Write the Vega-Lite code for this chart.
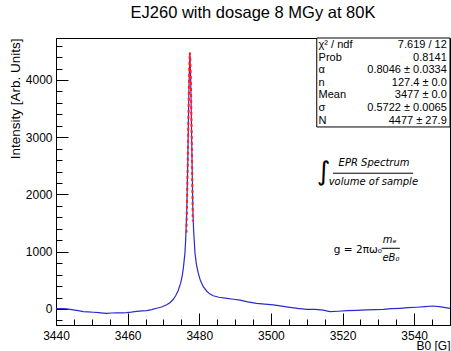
{
  "$schema": "https://vega.github.io/schema/vega-lite/v6.json",
  "width": 394,
  "height": 287,
  "autosize": {"type": "none"},
  "padding": {"left": 56, "top": 38, "right": 1, "bottom": 26},
  "background": "white",
  "config": {
    "view": {"stroke": "black", "strokeWidth": 1},
    "font": "Liberation Sans"
  },
  "title": {
    "text": "EJ260 with dosage 8 MGy at 80K",
    "font": "Liberation Sans",
    "fontSize": 16.5,
    "fontWeight": "normal",
    "color": "black",
    "anchor": "middle",
    "baseline": "alphabetic",
    "offset": 3
  },
  "resolve": {"axis": {"x": "independent", "y": "independent"}},
  "datasets": {
    "spectrum": [
      {"B": 3440.0, "I": 5}, {"B": 3441.5, "I": 8}, {"B": 3443.0, "I": 0}, {"B": 3444.8, "I": -17},
      {"B": 3446.2, "I": -30}, {"B": 3447.6, "I": -47}, {"B": 3449.0, "I": -50}, {"B": 3450.4, "I": -57},
      {"B": 3452.0, "I": -65}, {"B": 3453.2, "I": -72}, {"B": 3454.2, "I": -78}, {"B": 3455.5, "I": -70},
      {"B": 3456.9, "I": -66}, {"B": 3458.3, "I": -68}, {"B": 3459.7, "I": -64}, {"B": 3461.0, "I": -55},
      {"B": 3462.5, "I": -42}, {"B": 3464.0, "I": -35}, {"B": 3465.3, "I": -28}, {"B": 3466.7, "I": -10},
      {"B": 3468.1, "I": 12}, {"B": 3469.5, "I": 35}, {"B": 3470.9, "I": 75}, {"B": 3471.8, "I": 110},
      {"B": 3472.7, "I": 165}, {"B": 3473.4, "I": 230}, {"B": 3474.1, "I": 320}, {"B": 3474.8, "I": 450},
      {"B": 3475.3, "I": 600}, {"B": 3475.6, "I": 740}, {"B": 3476.0, "I": 980}, {"B": 3476.2, "I": 1205},
      {"B": 3476.5, "I": 1700}, {"B": 3476.8, "I": 2600}, {"B": 3477.1, "I": 3800}, {"B": 3477.35, "I": 4480},
      {"B": 3477.6, "I": 4050}, {"B": 3477.9, "I": 2900}, {"B": 3478.2, "I": 1750}, {"B": 3478.4, "I": 1400},
      {"B": 3478.8, "I": 980}, {"B": 3479.2, "I": 780}, {"B": 3479.7, "I": 630}, {"B": 3480.3, "I": 500},
      {"B": 3481.1, "I": 390}, {"B": 3482.1, "I": 310}, {"B": 3483.0, "I": 260}, {"B": 3483.9, "I": 230},
      {"B": 3485.5, "I": 205}, {"B": 3487.7, "I": 186}, {"B": 3489.5, "I": 170}, {"B": 3491.4, "I": 155},
      {"B": 3493.5, "I": 125}, {"B": 3496.0, "I": 99}, {"B": 3498.3, "I": 85}, {"B": 3500.7, "I": 70},
      {"B": 3503.0, "I": 50}, {"B": 3505.3, "I": 29}, {"B": 3507.5, "I": 10}, {"B": 3510.0, "I": -6},
      {"B": 3512.3, "I": -8}, {"B": 3514.6, "I": -20}, {"B": 3516.5, "I": -47}, {"B": 3518.8, "I": -40},
      {"B": 3521.2, "I": -30}, {"B": 3524.0, "I": -25}, {"B": 3526.7, "I": -17}, {"B": 3529.0, "I": -12},
      {"B": 3531.4, "I": -8}, {"B": 3533.7, "I": 5}, {"B": 3536.0, "I": 12}, {"B": 3538.3, "I": 22},
      {"B": 3540.7, "I": 30}, {"B": 3543.0, "I": 40}, {"B": 3545.3, "I": 52}, {"B": 3547.5, "I": 35},
      {"B": 3550.0, "I": 12}
    ],
    "fit": [
      {"B": 3476.4, "I": 1330}, {"B": 3476.6, "I": 1900}, {"B": 3476.8, "I": 2600}, {"B": 3477.0, "I": 3450},
      {"B": 3477.2, "I": 4150}, {"B": 3477.35, "I": 4480}, {"B": 3477.5, "I": 4350}, {"B": 3477.7, "I": 3800},
      {"B": 3477.9, "I": 2950}, {"B": 3478.1, "I": 2000}, {"B": 3478.2, "I": 1530}
    ],
    "box": [
      {"B1": 3512.8, "B2": 3550, "I1": 3179, "I2": 4733}
    ],
    "stats": [
      {"label": "χ² / ndf", "value": "7.619 / 12", "Bl": 3513.3, "Br": 3549.1, "I": 4611},
      {"label": "Prob", "value": "0.8141", "Bl": 3513.3, "Br": 3549.1, "I": 4391},
      {"label": "α", "value": "0.8046 ± 0.0334", "Bl": 3513.3, "Br": 3549.1, "I": 4171},
      {"label": "n", "value": "127.4 ± 0.0", "Bl": 3513.3, "Br": 3549.1, "I": 3951},
      {"label": "Mean", "value": "3477 ± 0.0", "Bl": 3513.3, "Br": 3549.1, "I": 3731},
      {"label": "σ", "value": "0.5722 ± 0.0065", "Bl": 3513.3, "Br": 3549.1, "I": 3511},
      {"label": "N", "value": "4477 ± 27.9", "Bl": 3513.3, "Br": 3549.1, "I": 3291}
    ],
    "formula": [
      {"text": "EPR Spectrum", "B": 3528.8, "I": 2551},
      {"text": "volume of sample", "B": 3528.6, "I": 2224},
      {"text": "mₑ", "B": 3533.2, "I": 1205},
      {"text": "eB₀", "B": 3533.5, "I": 886}
    ],
    "formula2": [
      {"text": "g = 2πω₀", "B": 3524.3, "I": 1031}
    ],
    "integral": [
      {"text": "∫", "B": 3514.7, "I": 2385}
    ],
    "bars": [
      {"B1": 3517.3, "B2": 3539.7, "I": 2371},
      {"B1": 3530.9, "B2": 3536.0, "I": 1060}
    ]
  },
  "layer": [
    {
      "data": {"name": "spectrum"},
      "mark": {"type": "line", "color": "#2a2ad0", "strokeWidth": 1.2, "clip": true},
      "encoding": {
        "x": {
          "field": "B",
          "type": "quantitative",
          "scale": {"domain": [3440, 3550], "nice": false, "zero": false},
          "axis": {
            "orient": "bottom",
            "title": "B0 [G]",
            "titleAnchor": "end",
            "titleFont": "Liberation Sans",
            "titleFontSize": 12,
            "titleFontWeight": "normal",
            "titleColor": "black",
            "titlePadding": -1,
            "values": [3440, 3460, 3480, 3500, 3520, 3540],
            "format": "d",
            "labelFont": "Liberation Sans",
            "labelFontSize": 12,
            "labelColor": "black",
            "labelPadding": 17,
            "labelFlush": false,
            "labelOverlap": false,
            "tickSize": -12,
            "tickColor": "black",
            "domainColor": "black",
            "grid": false
          }
        },
        "y": {
          "field": "I",
          "type": "quantitative",
          "scale": {"domain": [-280, 4733], "nice": false, "zero": false},
          "axis": {
            "orient": "left",
            "title": "Intensity [Arb. Units]",
            "titleAnchor": "end",
            "titleFont": "Liberation Sans",
            "titleFontSize": 13.5,
            "titleFontWeight": "normal",
            "titleColor": "black",
            "titlePadding": 3,
            "values": [0, 1000, 2000, 3000, 4000],
            "format": "d",
            "labelFont": "Liberation Sans",
            "labelFontSize": 12,
            "labelColor": "black",
            "labelPadding": 16,
            "labelOverlap": false,
            "tickSize": -12,
            "tickColor": "black",
            "domainColor": "black",
            "grid": false
          }
        }
      }
    },
    {
      "data": {"name": "fit"},
      "mark": {"type": "line", "color": "#ff2020", "strokeWidth": 2, "strokeDash": [3, 3], "clip": true},
      "encoding": {
        "x": {
          "field": "B",
          "type": "quantitative",
          "axis": {
            "orient": "bottom",
            "title": null,
            "labels": false,
            "domain": false,
            "grid": false,
            "values": [3445, 3450, 3455, 3465, 3470, 3475, 3485, 3490, 3495, 3505, 3510, 3515, 3525, 3530, 3535, 3545, 3550],
            "tickSize": -6,
            "tickColor": "black"
          }
        },
        "y": {
          "field": "I",
          "type": "quantitative",
          "axis": {
            "orient": "left",
            "title": null,
            "labels": false,
            "domain": false,
            "grid": false,
            "values": [-200, 200, 400, 600, 800, 1200, 1400, 1600, 1800, 2200, 2400, 2600, 2800, 3200, 3400, 3600, 3800, 4200, 4400, 4600],
            "tickSize": -6,
            "tickColor": "black"
          }
        }
      }
    },
    {
      "data": {"name": "box"},
      "mark": {"type": "rect", "fill": "white", "stroke": "black", "strokeWidth": 1},
      "encoding": {
        "x": {"field": "B1", "type": "quantitative", "axis": null},
        "x2": {"field": "B2"},
        "y": {"field": "I1", "type": "quantitative", "axis": null},
        "y2": {"field": "I2"}
      }
    },
    {
      "data": {"name": "stats"},
      "mark": {"type": "text", "align": "left", "baseline": "middle", "fontSize": 11, "font": "Liberation Sans", "color": "black"},
      "encoding": {
        "x": {"field": "Bl", "type": "quantitative", "axis": null},
        "y": {"field": "I", "type": "quantitative", "axis": null},
        "text": {"field": "label"}
      }
    },
    {
      "data": {"name": "stats"},
      "mark": {"type": "text", "align": "right", "baseline": "middle", "fontSize": 11, "font": "Liberation Sans", "color": "black"},
      "encoding": {
        "x": {"field": "Br", "type": "quantitative", "axis": null},
        "y": {"field": "I", "type": "quantitative", "axis": null},
        "text": {"field": "value"}
      }
    },
    {
      "data": {"name": "formula"},
      "mark": {"type": "text", "align": "center", "baseline": "middle", "fontSize": 10, "fontStyle": "italic", "font": "DejaVu Sans", "color": "black"},
      "encoding": {
        "x": {"field": "B", "type": "quantitative", "axis": null},
        "y": {"field": "I", "type": "quantitative", "axis": null},
        "text": {"field": "text"}
      }
    },
    {
      "data": {"name": "formula2"},
      "mark": {"type": "text", "align": "center", "baseline": "middle", "fontSize": 10.5, "font": "DejaVu Sans", "color": "black"},
      "encoding": {
        "x": {"field": "B", "type": "quantitative", "axis": null},
        "y": {"field": "I", "type": "quantitative", "axis": null},
        "text": {"field": "text"}
      }
    },
    {
      "data": {"name": "integral"},
      "mark": {"type": "text", "align": "center", "baseline": "middle", "fontSize": 26, "font": "DejaVu Sans", "color": "black"},
      "encoding": {
        "x": {"field": "B", "type": "quantitative", "axis": null},
        "y": {"field": "I", "type": "quantitative", "axis": null},
        "text": {"field": "text"}
      }
    },
    {
      "data": {"name": "bars"},
      "mark": {"type": "rule", "color": "black", "strokeWidth": 1},
      "encoding": {
        "x": {"field": "B1", "type": "quantitative", "axis": null},
        "x2": {"field": "B2"},
        "y": {"field": "I", "type": "quantitative", "axis": null}
      }
    }
  ]
}
